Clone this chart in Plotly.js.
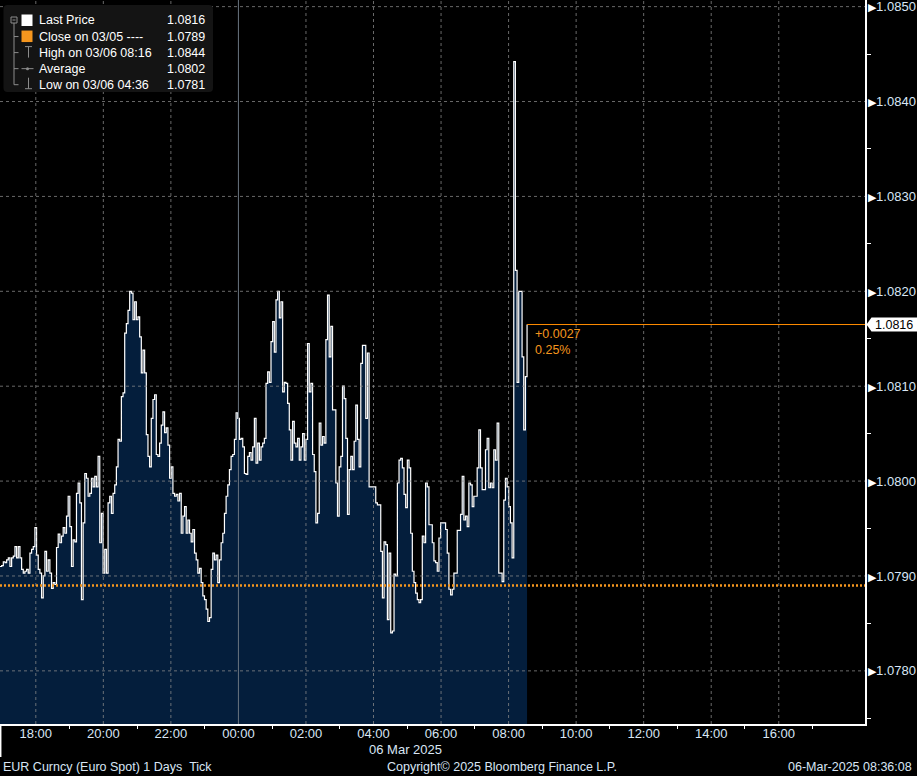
<!DOCTYPE html>
<html><head><meta charset="utf-8">
<script src="https://cdn.plot.ly/plotly-3.0.1.min.js"></script>
<style>html,body{margin:0;padding:0;background:#000;}#chart{width:917px;height:776px;}</style>
</head><body><div id="chart"></div>
<script>
// ---------------- data ----------------
const seriesStart = '2025-03-05 16:56:24';
const sampleStepMinutes = 2.954;
const prices = [
1.07910,1.07911,1.07915,1.07914,1.07917,1.07919,1.07910,1.07919,1.07921,1.07931,
1.07919,1.07931,1.07919,1.07907,1.07903,1.07905,1.07907,1.07903,1.07924,1.07928,
1.07931,1.07951,1.07922,1.07907,1.07903,1.07877,1.07900,1.07926,1.07905,1.07917,
1.07903,1.07887,1.07893,1.07891,1.07930,1.07944,1.07935,1.07942,1.07951,1.07945,
1.07963,1.07984,1.07952,1.07910,1.07938,1.07936,1.07987,1.07998,1.07977,1.07875,
1.07956,1.08008,1.08003,1.07984,1.07987,1.08003,1.07994,1.08005,1.07994,1.08026,
1.07935,1.07966,1.07903,1.07928,1.07903,1.07977,1.07984,1.07966,1.07987,1.07996,
1.08015,1.08044,1.08042,1.08089,1.08093,1.08156,1.08166,1.08180,1.08200,1.08198,
1.08170,1.08189,1.08170,1.08173,1.08152,1.08114,1.08138,1.08114,1.08049,1.08026,
1.08015,1.08066,1.08086,1.08091,1.08028,1.08026,1.08040,1.08059,1.08073,1.08051,
1.08056,1.08038,1.08003,1.08015,1.07987,1.07984,1.07986,1.07979,1.07987,1.07945,
1.07963,1.07973,1.07945,1.07959,1.07945,1.07936,1.07949,1.07924,1.07917,1.07903,
1.07908,1.07893,1.07879,1.07875,1.07865,1.07852,1.07856,1.07907,1.07924,1.07917,
1.07922,1.07893,1.07917,1.07935,1.07945,1.07966,1.07984,1.07996,1.08012,1.08026,
1.08028,1.08044,1.08072,1.08066,1.08044,1.08045,1.08036,1.08008,1.08007,1.08026,
1.08030,1.08022,1.08036,1.08066,1.08019,1.08040,1.08022,1.08036,1.08040,1.08045,
1.08103,1.08115,1.08104,
1.08147,1.08168,1.08136,1.08191,1.08200,1.08172,1.08189,1.08094,1.08104,1.08103,
1.08082,1.08054,1.08022,1.08063,1.08040,1.08036,1.08045,1.08022,1.08036,1.08050,
1.08022,1.08044,1.08145,1.08094,1.08103,1.08028,1.08010,1.07956,1.07966,1.08061,
1.08038,1.08047,1.08040,1.08149,1.08196,1.08131,1.08163,1.08075,1.08075,1.07998,
1.07963,1.08015,1.08026,1.08100,1.08087,1.08045,1.07965,1.08012,1.08026,1.08012,
1.08042,1.08080,1.08044,1.08015,1.08124,1.08143,1.08143,1.08066,1.08135,1.07994,
1.07994,1.07994,1.07994,1.07977,1.07975,1.07975,1.07926,1.07877,1.07936,1.07933,
1.07854,1.07924,1.07840,1.07842,1.07902,1.07900,1.07998,1.08022,1.08024,1.08014,
1.07986,1.07972,1.08022,1.08014,1.07945,1.07905,1.07893,1.07882,1.07875,1.07872,
1.07875,1.07942,1.07935,1.07998,1.07994,1.07954,1.07954,1.07935,1.07916,1.07914,
1.07905,1.07940,1.07956,1.07956,1.07956,1.07949,1.07924,1.07886,1.07880,1.07886,
1.07903,1.07903,1.07948,1.07948,1.07965,1.08005,1.07959,1.07963,1.07952,1.07998,
1.07996,1.07973,1.07984,1.07984,1.08014,1.08054,1.08014,1.07991,1.07991,1.08033,
1.08045,1.07993,1.07998,1.07993,1.08033,1.08022,1.08061,1.07903,1.07903,1.07894,
1.07980,1.08003,1.07994,1.07973,1.07956,1.07919,1.08442,1.08222,1.08104,1.08200,
1.08200,1.08131,1.08054,1.08110,1.08165
];
const closePrice = 1.0789;
const yTickVals = [1.0780,1.0790,1.0800,1.0810,1.0820,1.0830,1.0840,1.0850];
const yTickText = ['1.0780','1.0790','1.0800','1.0810','1.0820','1.0830','1.0840','1.0850'];
const yMinorVals = [1.0775,1.0785,1.0795,1.0805,1.0815,1.0825,1.0835,1.0845];
const xTickVals = ['2025-03-05 18:00','2025-03-05 20:00','2025-03-05 22:00','2025-03-06 00:00',
  '2025-03-06 02:00','2025-03-06 04:00','2025-03-06 06:00','2025-03-06 08:00',
  '2025-03-06 10:00','2025-03-06 12:00','2025-03-06 14:00','2025-03-06 16:00'];
const xTickText = ['18:00','20:00','22:00','00:00','02:00','04:00','06:00','08:00','10:00','12:00','14:00','16:00'];
const xMinorVals = ['2025-03-05 19:00','2025-03-05 21:00','2025-03-05 23:00','2025-03-06 01:00',
  '2025-03-06 03:00','2025-03-06 05:00','2025-03-06 07:00','2025-03-06 09:00',
  '2025-03-06 11:00','2025-03-06 13:00','2025-03-06 15:00','2025-03-06 17:00'];
const midnight = '2025-03-06 00:00';
const xRange = ['2025-03-05 16:56:24','2025-03-06 18:33:14'];
const yRange = [1.07744, 1.08507];
const legendLabels = ['Last Price','Close on 03/05 ----','High on 03/06 08:16','Average','Low on 03/06 04:36'];
const legendValues = ['1.0816','1.0789','1.0844','1.0802','1.0781'];
const lastLabel = '1.0816';
const changeLines = ['+0.0027','0.25%'];
const dateLabel = '06 Mar 2025';
const footerLeft = 'EUR Curncy (Euro Spot) 1 Days&nbsp;&nbsp;Tick';
const footerCenter = 'Copyright\u00a9 2025 Bloomberg Finance L.P.';
const footerRight = '06-Mar-2025 08:36:08';

// ---------------- build ----------------
function fmt(ms){ return new Date(ms).toISOString().slice(0,19).replace('T',' '); }
const t0 = Date.parse(seriesStart.replace(' ','T')+'Z');
const times = prices.map((_,i)=>fmt(t0 + i*sampleStepMinutes*60000));
const lastTime = times[times.length-1];
const lastPrice = prices[prices.length-1];

const W=917,H=776,M={l:0,r:52,t:0,b:52};
const PW=W-M.l-M.r, PH=H-M.t-M.b;
const px = v => v/PW;
const py = v => 1 - v/PH;
const FONT = 'Liberation Sans, Arial, sans-serif';
const PALE = '#d9e6f5';
const ORANGE = '#f5961e';
const GREY = '#8c8c8c';

const traces = [{
  type:'scatter', mode:'lines', x:times, y:prices,
  line:{shape:'hv', color:'#ffffff', width:1.2},
  fill:'tozeroy', fillcolor:'#041e3c', hoverinfo:'skip'
}];

const shapes = [];
yTickVals.forEach(v=>shapes.push({type:'line',xref:'paper',yref:'y',x0:0,x1:1,y0:v,y1:v,layer:'above',
  line:{color:'rgba(140,140,140,0.75)',width:1,dash:'3px,3px'}}));
xTickVals.forEach(v=>{
  if(v===midnight){
    shapes.push({type:'line',xref:'x',yref:'paper',x0:v,x1:v,y0:0,y1:1,layer:'above',line:{color:'#6a7580',width:1}});
  } else {
    shapes.push({type:'line',xref:'x',yref:'paper',x0:v,x1:v,y0:0,y1:1,layer:'above',
      line:{color:'rgba(140,140,140,0.75)',width:1,dash:'3px,3px'}});
  }
});
// close line (dotted orange)
shapes.push({type:'line',xref:'paper',yref:'y',x0:0,x1:1,y0:closePrice,y1:closePrice,layer:'above',
  line:{color:ORANGE,width:2.5,dash:'2px,2px'}});
// last price line
shapes.push({type:'line',xref:'x',yref:'y',x0:lastTime,x1:xRange[1],y0:lastPrice,y1:lastPrice,layer:'above',
  line:{color:'#ff8c00',width:1}});
// left frame stub under axis
shapes.push({type:'line',xref:'paper',yref:'paper',x0:px(0.7),x1:px(0.7),y0:py(PH),y1:py(757),line:{color:'#ffffff',width:1.5}});

// last price axis tag (white arrow box)
(function(){
  const ypx = PH*(1-(lastPrice-yRange[0])/(yRange[1]-yRange[0]));
  const x0=PW+1.5, xb=PW+6.5, x1=W+2, h=7;
  const path = `M ${px(x0)} ${py(ypx)} L ${px(xb)} ${py(ypx-h)} L ${px(x1)} ${py(ypx-h)} L ${px(x1)} ${py(ypx+h)} L ${px(xb)} ${py(ypx+h)} Z`;
  shapes.push({type:'path',xref:'paper',yref:'paper',path:path,fillcolor:'#ffffff',line:{width:0}});
})();

// legend box
function roundRect(x0,y0,x1,y1,r){
  return `M ${px(x0+r)} ${py(y0)} L ${px(x1-r)} ${py(y0)} Q ${px(x1)} ${py(y0)} ${px(x1)} ${py(y0+r)} `+
         `L ${px(x1)} ${py(y1-r)} Q ${px(x1)} ${py(y1)} ${px(x1-r)} ${py(y1)} `+
         `L ${px(x0+r)} ${py(y1)} Q ${px(x0)} ${py(y1)} ${px(x0)} ${py(y1-r)} `+
         `L ${px(x0)} ${py(y0+r)} Q ${px(x0)} ${py(y0)} ${px(x0+r)} ${py(y0)} Z`;
}
shapes.push({type:'path',xref:'paper',yref:'paper',path:roundRect(3.5,5,213,92,4),fillcolor:'#141414',line:{width:0},layer:'above'});
const rowY = legendLabels.map((_,i)=>20.5+16.05*i);
function pl(x0,y0,x1,y1,c,w){ shapes.push({type:'line',xref:'paper',yref:'paper',x0:px(x0),x1:px(x1),y0:py(y0),y1:py(y1),layer:'above',line:{color:c||GREY,width:w||1}}); }
function prect(x0,y0,x1,y1,fill,lc){ shapes.push({type:'rect',xref:'paper',yref:'paper',x0:px(x0),x1:px(x1),y0:py(y0),y1:py(y1),layer:'above',fillcolor:fill||'rgba(0,0,0,0)',line:{color:lc||GREY,width:lc?1:0}}); }
// tree
prect(11,17,17,23,null,GREY);
pl(12.5,20,15.5,20);
pl(14,23,14,rowY[4]);
for(let i=1;i<5;i++) pl(14,rowY[i],18.5,rowY[i]);
// row icons
prect(21.5,rowY[0]-6,32.5,rowY[0]+5.5,'#ffffff');
prect(21.5,rowY[1]-6,32.5,rowY[1]+5.5,ORANGE);
pl(25,rowY[2]-6,32,rowY[2]-6); pl(28.5,rowY[2]-6,28.5,rowY[2]+5);
pl(21.5,rowY[3],33.5,rowY[3]);
shapes.push({type:'circle',xref:'paper',yref:'paper',x0:px(26),x1:px(29),y0:py(rowY[3]-1.5),y1:py(rowY[3]+1.5),layer:'above',fillcolor:GREY,line:{width:0}});
pl(28.5,rowY[4]-7,28.5,rowY[4]+4); pl(25,rowY[4]+4,32,rowY[4]+4);

const annotations = [];
legendLabels.forEach((t,i)=>{
  annotations.push({xref:'paper',yref:'paper',x:px(37),y:py(rowY[i]),xanchor:'left',yanchor:'middle',showarrow:false,
    text:t,font:{family:FONT,size:12.5,color:'#ffffff'}});
  annotations.push({xref:'paper',yref:'paper',x:px(207),y:py(rowY[i]),xanchor:'right',yanchor:'middle',showarrow:false,
    text:legendValues[i],font:{family:FONT,size:12.5,color:'#ffffff'}});
});
changeLines.forEach((t,i)=>annotations.push({xref:'x',yref:'y',x:lastTime,y:lastPrice,xanchor:'left',yanchor:'middle',
  xshift:6,yshift:-9-16.5*i,showarrow:false,text:t,font:{family:FONT,size:12.5,color:ORANGE}}));
annotations.push({xref:'paper',yref:'y',x:px(PW+8),y:lastPrice,xanchor:'left',yanchor:'middle',showarrow:false,
  text:lastLabel,font:{family:FONT,size:12.5,color:'#000000'}});
annotations.push({xref:'paper',yref:'paper',x:px(405),y:py(749),xanchor:'center',yanchor:'middle',showarrow:false,
  text:dateLabel,font:{family:FONT,size:13,color:PALE}});
annotations.push({xref:'paper',yref:'paper',x:px(1),y:py(767),xanchor:'left',yanchor:'middle',showarrow:false,
  text:footerLeft,font:{family:FONT,size:12.5,color:PALE}});
annotations.push({xref:'paper',yref:'paper',x:px(502),y:py(767),xanchor:'center',yanchor:'middle',showarrow:false,
  text:footerCenter,font:{family:FONT,size:12.5,color:PALE}});
annotations.push({xref:'paper',yref:'paper',x:px(914),y:py(767),xanchor:'right',yanchor:'middle',showarrow:false,
  text:footerRight,font:{family:FONT,size:12.5,color:PALE}});

const layout = {
  width:W,height:H,margin:M,paper_bgcolor:'#000000',plot_bgcolor:'#000000',showlegend:false,
  font:{family:FONT,color:PALE,size:13},
  xaxis:{type:'date',range:xRange,tickmode:'array',tickvals:xTickVals,ticktext:xTickText,
    showgrid:false,zeroline:false,showline:true,linecolor:'#ffffff',linewidth:1.5,ticks:'',
    ticklabelstandoff:-3,ticklabeloverflow:'allow',tickfont:{family:FONT,size:13,color:PALE},
    minor:{tickmode:'array',tickvals:xMinorVals,ticks:'outside',ticklen:3,tickcolor:'#ffffff',tickwidth:1,showgrid:false}},
  yaxis:{side:'right',range:yRange,tickmode:'array',tickvals:yTickVals,
    ticktext:yTickText.map(t=>'<span style="color:#ffffff;font-size:11px">\u25B6</span>'+t),
    showgrid:false,zeroline:false,showline:true,linecolor:'#ffffff',linewidth:1.5,ticks:'',
    ticklabelstandoff:-1,ticklabeloverflow:'allow',tickfont:{family:FONT,size:13,color:PALE},
    minor:{tickmode:'array',tickvals:yMinorVals,ticks:'outside',ticklen:4,tickcolor:'#ffffff',tickwidth:1,showgrid:false}},
  shapes:shapes, annotations:annotations
};
Plotly.newPlot('chart',traces,layout,{displayModeBar:false,staticPlot:true});
</script></body></html>
